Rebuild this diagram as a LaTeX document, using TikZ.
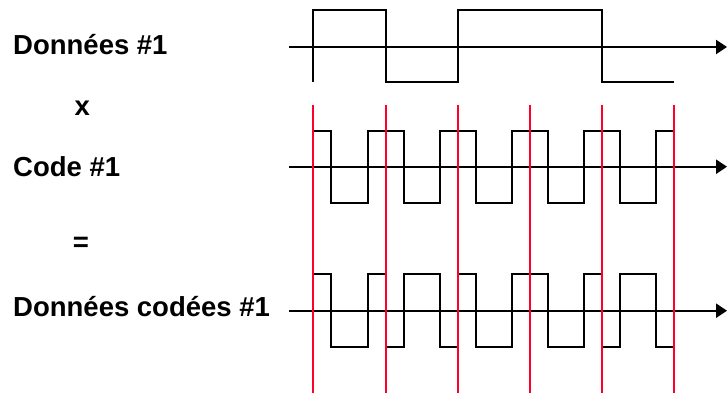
\documentclass[tikz,border=0pt]{standalone}
\usepackage{fontspec}
\setmainfont{Liberation Sans}
\usetikzlibrary{arrows.meta}
\definecolor{redline}{RGB}{255,0,45}
\tikzset{
  lbl/.style={anchor=base west, inner sep=0pt, font=\fontsize{27.5}{32}\selectfont\bfseries},
  axisline/.style={line width=2.2pt, -{Triangle[length=11pt,width=14pt]}},
  wave/.style={line width=2pt, line join=miter},
  marker/.style={draw=redline, line width=2pt}
}
\begin{document}
\begin{tikzpicture}[x=1pt,y=-1pt]
\useasboundingbox (0,0) rectangle (727,393);
% labels
\node[lbl] (l1) at (13,55) {Données \#1};
\node[lbl] (lx) at (74.5,115) {x};
\node[lbl] (l2) at (13,176) {Code \#1};
\node[lbl, anchor=base] (leq) at (81,251) {=};
\node[lbl] (l3) at (13,316.7) {Données codées \#1};
% axes
\coordinate (a1s) at (289,47);   \coordinate (a1e) at (727,47);
\coordinate (a2s) at (289,166.7); \coordinate (a2e) at (727,166.7);
\coordinate (a3s) at (289,310.7); \coordinate (a3e) at (727,310.7);
\draw[axisline] (a1s) -- (a1e);
\draw[axisline] (a2s) -- (a2e);
\draw[axisline] (a3s) -- (a3e);
% data signal
\draw[wave] (313.3,82) -- (313.3,10) -- (385.5,10) -- (385.5,82) -- (457.7,82) -- (457.7,10)
  -- (602.1,10) -- (602.1,82) -- (674.3,82);
% code signal
\draw[wave] (313.3,203) -- (313.3,131) -- (331.4,131) -- (331.4,203) -- (367.5,203) -- (367.5,131)
  -- (403.6,131) -- (403.6,203) -- (439.7,203) -- (439.7,131) -- (475.8,131) -- (475.8,203)
  -- (511.9,203) -- (511.9,131) -- (548,131) -- (548,203) -- (584.1,203) -- (584.1,131)
  -- (620.2,131) -- (620.2,203) -- (656.3,203) -- (656.3,131) -- (674.3,131);
% coded data
\draw[wave] (313.3,347) -- (313.3,274.3) -- (331.4,274.3) -- (331.4,347) -- (367.5,347) -- (367.5,274.3)
  -- (385.5,274.3) -- (385.5,347) -- (403.6,347) -- (403.6,274.3) -- (439.7,274.3) -- (439.7,347)
  -- (457.7,347) -- (457.7,274.3) -- (475.8,274.3) -- (475.8,347) -- (511.9,347) -- (511.9,274.3)
  -- (548,274.3) -- (548,347) -- (584.1,347) -- (584.1,274.3) -- (602.1,274.3) -- (602.1,347)
  -- (620.2,347) -- (620.2,274.3) -- (656.3,274.3) -- (656.3,347) -- (674.3,347);
% red bit boundaries
\coordinate (r0t) at (313.3,105); \coordinate (r0b) at (313.3,393);
\coordinate (r1t) at (385.5,105); \coordinate (r1b) at (385.5,393);
\coordinate (r2t) at (457.7,105); \coordinate (r2b) at (457.7,393);
\coordinate (r3t) at (529.9,105); \coordinate (r3b) at (529.9,393);
\coordinate (r4t) at (602.1,105); \coordinate (r4b) at (602.1,393);
\coordinate (r5t) at (674.3,105); \coordinate (r5b) at (674.3,393);
\draw[marker] (r0t) -- (r0b);
\draw[marker] (r1t) -- (r1b);
\draw[marker] (r2t) -- (r2b);
\draw[marker] (r3t) -- (r3b);
\draw[marker] (r4t) -- (r4b);
\draw[marker] (r5t) -- (r5b);
\end{tikzpicture}
\end{document}
